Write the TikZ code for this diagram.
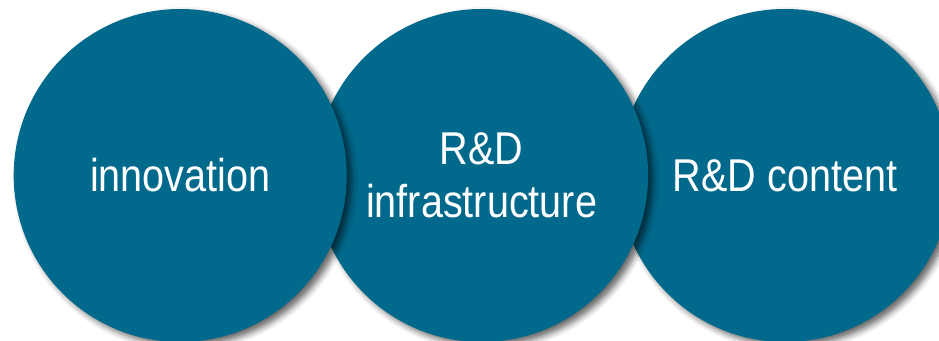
\documentclass[tikz,border=0pt]{standalone}
\usepackage{fontspec}
\setmainfont[FakeStretch=0.86]{Liberation Sans}
\usepackage{xcolor}
\usepackage{tikz}
\usetikzlibrary{positioning,shadows.blur}

\definecolor{bubbleteal}{RGB}{0,105,140}

\tikzset{
  bubble/.style={circle, fill=bubbleteal, minimum size=333pt, inner sep=0pt,
                 text=white, align=center,
                 font=\fontsize{46}{53}\selectfont,
                 blur shadow={shadow xshift=5pt, shadow yshift=-4pt,
                              shadow blur radius=6pt, shadow opacity=60}}
}

\begin{document}
\begin{tikzpicture}[x=1pt,y=1pt]
                \useasboundingbox (0,0) rectangle (939,340);

                \node [bubble] (content) at (785,164.5) {R\&D content};
                \node [bubble, left = -30pt of content]
                                        (infra) {R\&D\\infrastructure};
                \node [bubble, left = -32pt of infra]
                                        (innov) {innovation};
            \end{tikzpicture}
\end{document}
